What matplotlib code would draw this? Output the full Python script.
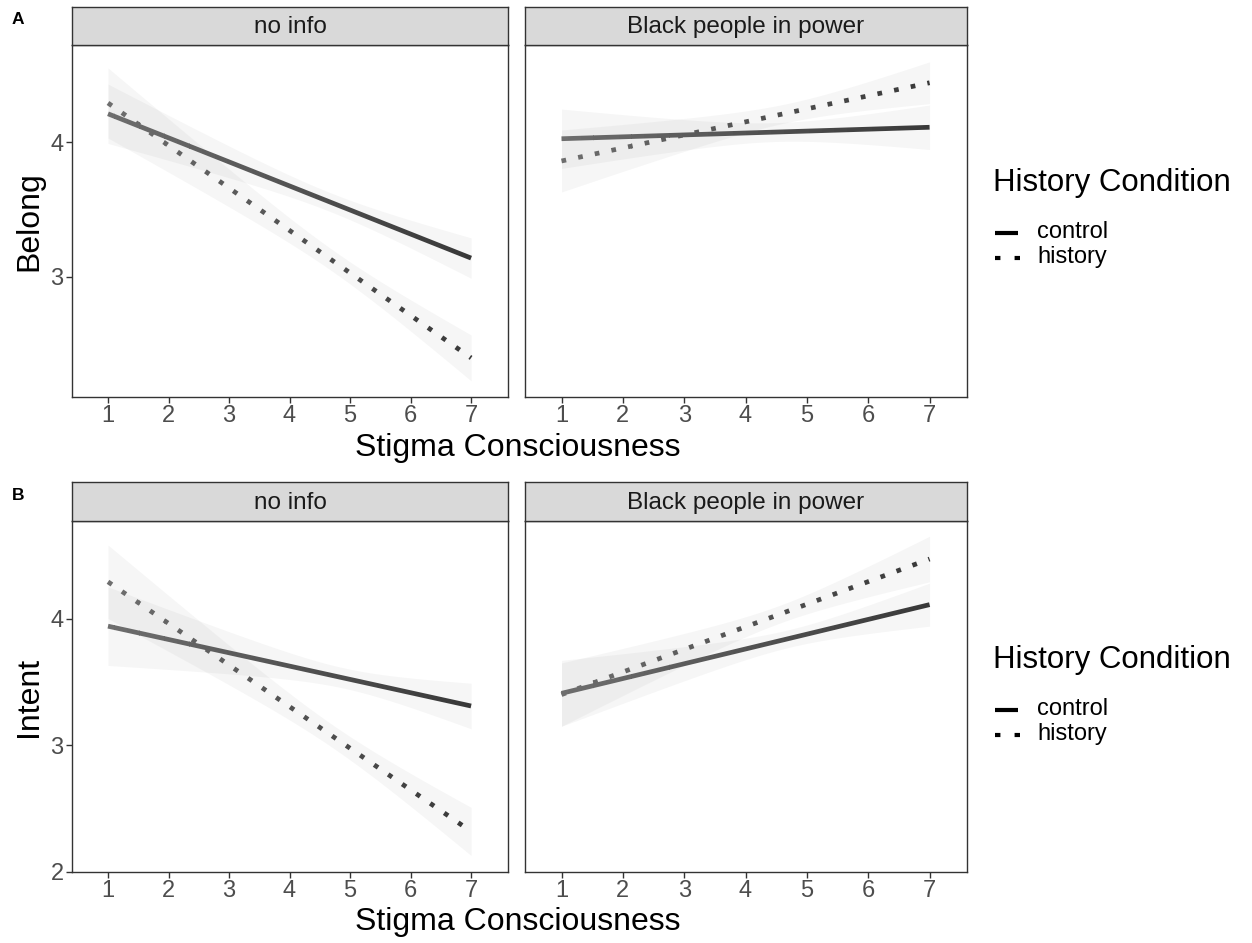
import numpy as np
import matplotlib
matplotlib.use("Agg")
import matplotlib.pyplot as plt
from matplotlib.patches import Rectangle
from matplotlib.lines import Line2D
from matplotlib.colors import to_rgb

plt.rcParams['font.family'] = ['Liberation Sans', 'DejaVu Sans']

# ---------------- data ----------------
facets = ["no info", "Black people in power"]
outcomes = ["Belong", "Intent"]
panel_letters = ["A", "B"]
conditions = ["control", "history"]
x_range = [1, 7]
x_ticks = [1, 2, 3, 4, 5, 6, 7]
y_ticks = {"Belong": [3, 4], "Intent": [2, 3, 4]}
y_limits = {"Belong": (2.11, 4.72), "Intent": (2.0, 4.77)}

# fitted line values at x=1 and x=7
belong_noinfo_control = [4.21, 3.14]
belong_noinfo_history = [4.29, 2.40]
belong_power_control = [4.025, 4.11]
belong_power_history = [3.86, 4.44]
intent_noinfo_control = [3.94, 3.31]
intent_noinfo_history = [4.29, 2.32]
intent_power_control = [3.41, 4.11]
intent_power_history = [3.40, 4.47]

# confidence band half-widths: at x=1, minimum, at x=7
belong_noinfo_control_ci = [0.22, 0.07, 0.15]
belong_noinfo_history_ci = [0.26, 0.08, 0.17]
belong_power_control_ci = [0.22, 0.07, 0.165]
belong_power_history_ci = [0.23, 0.07, 0.155]
intent_noinfo_control_ci = [0.31, 0.08, 0.18]
intent_noinfo_history_ci = [0.29, 0.09, 0.19]
intent_power_control_ci = [0.26, 0.07, 0.17]
intent_power_history_ci = [0.25, 0.07, 0.18]

lines = {
    ("Belong", "no info", "control"): (belong_noinfo_control, belong_noinfo_control_ci),
    ("Belong", "no info", "history"): (belong_noinfo_history, belong_noinfo_history_ci),
    ("Belong", "Black people in power", "control"): (belong_power_control, belong_power_control_ci),
    ("Belong", "Black people in power", "history"): (belong_power_history, belong_power_history_ci),
    ("Intent", "no info", "control"): (intent_noinfo_control, intent_noinfo_control_ci),
    ("Intent", "no info", "history"): (intent_noinfo_history, intent_noinfo_history_ci),
    ("Intent", "Black people in power", "control"): (intent_power_control, intent_power_control_ci),
    ("Intent", "Black people in power", "history"): (intent_power_history, intent_power_history_ci),
}

# ---------------- layout ----------------
W, H = 1252, 943
fig = plt.figure(figsize=(W / 100, H / 100), dpi=100)
fig.patch.set_facecolor("white")


def fr(x0, y0, x1, y1):
    return [x0 / W, 1 - y1 / H, (x1 - x0) / W, (y1 - y0) / H]


panel_x = [(72, 508), (525, 967)]
rows = [dict(strip=(7, 45), panel=(45, 397)), dict(strip=(482, 521), panel=(521, 872))]

c_left = np.array(to_rgb("#6e6e6e"))
c_right = np.array(to_rgb("#383838"))
dark = "#333333"
LW = 3.4


def band(xs, ends, ci):
    h1, h0, h7 = ci
    A = np.sqrt(max(h1 ** 2 - h0 ** 2, 1e-9))
    B = np.sqrt(max(h7 ** 2 - h0 ** 2, 1e-9))
    s = (A + B) / (x_range[1] - x_range[0])
    xm = x_range[0] + A / s
    return np.sqrt(h0 ** 2 + (s * (xs - xm)) ** 2)


for r, outcome in enumerate(outcomes):
    ylo, yhi = y_limits[outcome]
    for c, facet in enumerate(facets):
        x0, x1 = panel_x[c]
        py0, py1 = rows[r]["panel"]
        sy0, sy1 = rows[r]["strip"]
        ax = fig.add_axes(fr(x0, py0, x1, py1))
        ax.set_xlim(0.405, 7.61)
        ax.set_ylim(ylo, yhi)
        for sp in ax.spines.values():
            sp.set_color(dark)
            sp.set_linewidth(1.0)
        ax.set_xticks(x_ticks)
        ax.set_xticklabels([str(t) for t in x_ticks])
        ax.tick_params(axis="x", length=4, width=1, color=dark, labelsize=17,
                       labelcolor="#4d4d4d", pad=2)
        if c == 0:
            ax.set_yticks(y_ticks[outcome])
            ax.set_yticklabels([str(t) for t in y_ticks[outcome]])
            ax.tick_params(axis="y", length=4, width=1, color=dark, labelsize=17,
                           labelcolor="#4d4d4d", pad=2)
        else:
            ax.set_yticks([])

        xs = np.linspace(x_range[0], x_range[1], 200)
        for cond in conditions:
            ends, ci = lines[(outcome, facet, cond)]
            yfit = np.interp(xs, x_range, ends)
            hw = band(xs, ends, ci)
            ax.fill_between(xs, yfit - hw, yfit + hw, color="#999999", alpha=0.085,
                            linewidth=0, zorder=1)
        for cond in conditions:
            ends, ci = lines[(outcome, facet, cond)]
            yfit = np.interp(xs, x_range, ends)
            nseg = 30
            edges = np.linspace(x_range[0] - 0.1, x_range[1] + 0.1, nseg + 1)
            for i in range(nseg):
                t = i / (nseg - 1)
                col = c_left * (1 - t) + c_right * t
                if cond == "control":
                    ln, = ax.plot(xs, yfit, color=col, lw=LW, solid_capstyle="butt", zorder=3)
                else:
                    ln, = ax.plot(xs, yfit, color=col, lw=LW, zorder=3,
                                  linestyle=(0, (1.0, 2.6)), dash_capstyle="butt")
                rect = Rectangle((edges[i], ylo - 1), edges[i + 1] - edges[i] + 0.002,
                                 (yhi - ylo) + 2, transform=ax.transData)
                ln.set_clip_path(rect)

        # strip
        sax = fig.add_axes(fr(x0, sy0, x1, sy1))
        sax.set_facecolor("#d9d9d9")
        sax.set_xticks([])
        sax.set_yticks([])
        for sp in sax.spines.values():
            sp.set_color(dark)
            sp.set_linewidth(1.0)
        sax.text(0.5, 0.47, facet, ha="center", va="center", fontsize=17.5,
                 color="#1a1a1a", transform=sax.transAxes)

    # axis titles
    pcy = (rows[r]["panel"][0] + rows[r]["panel"][1]) / 2
    fig.text(29 / W, 1 - pcy / H, outcome, rotation=90, ha="center", va="center",
             fontsize=23, color="black")
    xl_y = [448, 922][r]
    fig.text(518 / W, 1 - xl_y / H, "Stigma Consciousness", ha="center", va="center",
             fontsize=23, color="black")
    # panel letter
    fig.text(12 / W, 1 - (rows[r]["strip"][0] + 13) / H, panel_letters[r], ha="left",
             va="center", fontsize=12.5, fontweight="bold", color="black")

    # legend
    ty = [183, 660][r]
    fig.text(993 / W, 1 - ty / H, "History Condition", ha="left", va="center",
             fontsize=22.5, color="black")
    for k, cond in enumerate(conditions):
        ey = ty + 50 + 25 * k
        if cond == "control":
            key = Line2D([995 / W, 1018 / W], [1 - ey / H, 1 - ey / H], color="black",
                         lw=3.0, solid_capstyle="butt", transform=fig.transFigure)
        else:
            key = Line2D([995 / W, 1020 / W], [1 - ey / H, 1 - ey / H], color="black",
                         lw=3.0, linestyle=(0, (1.3, 3.4)), dash_capstyle="butt",
                         transform=fig.transFigure)
        fig.add_artist(key)
        fig.text(1037 / W, 1 - (ey - 1) / H, cond, ha="left", va="center",
                 fontsize=17, color="black")

fig.savefig("out.png", dpi=100)
